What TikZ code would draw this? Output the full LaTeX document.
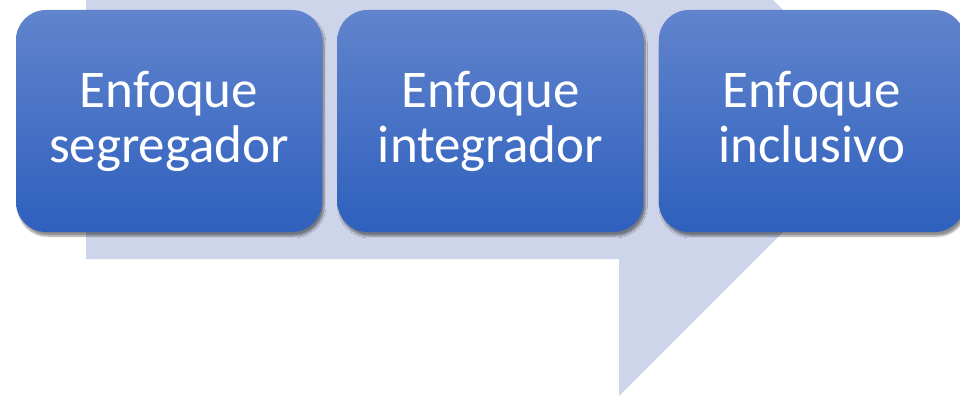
\documentclass[tikz,border=0pt]{standalone}
\usepackage{fontspec}
\setmainfont{Carlito}
\usepackage{xcolor}
\usetikzlibrary{positioning,shadows.blur}
\definecolor{lavender}{HTML}{CED5EA}
\definecolor{bluetop}{HTML}{6184CD}
\definecolor{bluebot}{HTML}{2E60BD}
\tikzset{
  stage/.style={rounded corners=30pt, minimum width=306pt, minimum height=222pt, inner sep=0pt,
    top color=bluetop, bottom color=bluebot, draw=none, align=center, text=white,
    font=\fontsize{53}{55}\selectfont, text height=94pt, text depth=12pt,
    blur shadow={shadow xshift=2pt, shadow yshift=-4pt, shadow blur steps=6, shadow opacity=45}},
  backarrow/.style={fill=lavender, draw=none}
}

\begin{document}
\begin{tikzpicture}[x=1pt, y=-1pt, node distance=15pt]
\useasboundingbox (0,0) rectangle (960,396);
\clip (0,0) rectangle (960,396);
\fill[backarrow] (86,-17) -- (619,-17) -- (619,-154) -- (894,121) -- (619,396) -- (619,259) -- (86,259) -- cycle;
\node[stage] (seg) at (169,121) {Enfoque\\segregador};
\node[stage, right=of seg] (int) {Enfoque\\integrador};
\node[stage, right=of int] (inc) {Enfoque\\inclusivo};
\end{tikzpicture}
\end{document}
